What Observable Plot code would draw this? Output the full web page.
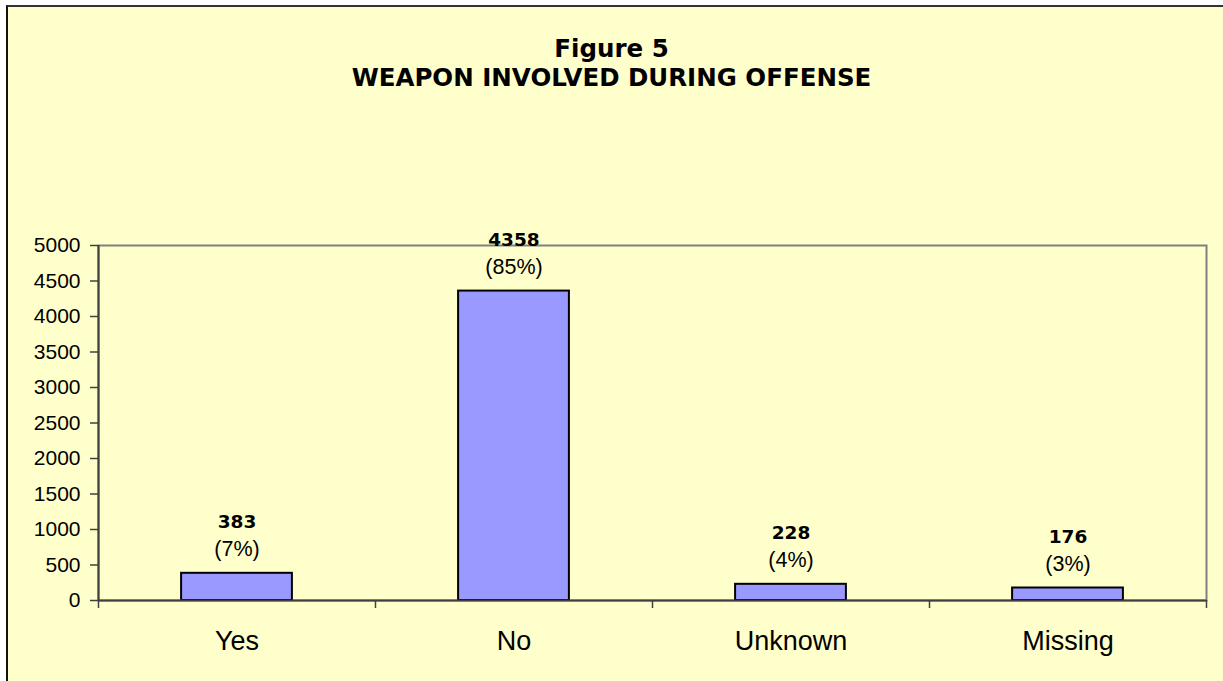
<!DOCTYPE html>
<html>
<head>
<meta charset="utf-8">
<script src="https://cdn.jsdelivr.net/npm/d3@7"></script>
<script src="https://cdn.jsdelivr.net/npm/@observablehq/plot@0.6"></script>
<style>
  html, body { margin: 0; padding: 0; background: #ffffff; }
  #wrap { position: relative; width: 1223px; height: 681px; overflow: hidden; }
  #box { position: absolute; left: 6px; top: 5px; width: 1240px; height: 700px;
         background: #FFFFCC; border-left: 2px solid #111; border-top: 2px solid #333; }
  #title { position: absolute; left: 0; top: 0; width: 1223px; text-align: center;
           font-family: "DejaVu Sans", Verdana, sans-serif; font-weight: bold; font-size: 24.5px;
           color: #000; line-height: 28px; }
  #title .l1 { position: absolute; left: 0; width: 100%; top: 35px; }
  #title .l2 { position: absolute; left: 0; width: 100%; top: 64px; }
  #chart { position: absolute; left: 0; top: 0; }
</style>
</head>
<body>
<div id="wrap">
  <div id="box"></div>
  <div id="title"><div class="l1">Figure 5</div><div class="l2">WEAPON INVOLVED DURING OFFENSE</div></div>
  <div id="chart"></div>
</div>
<script>
const categories = ["Yes", "No", "Unknown", "Missing"];
const counts = [383, 4358, 228, 176];
const percents = ["(7%)", "(85%)", "(4%)", "(3%)"];
const yTicks = [0, 500, 1000, 1500, 2000, 2500, 3000, 3500, 4000, 4500, 5000];

const data = categories.map((c, i) => ({
  category: c, idx: i, count: counts[i], pct: percents[i]
}));
const boundaries = d3.range(categories.length + 1);

const chart = Plot.plot({
  width: 1223,
  height: 681,
  marginLeft: 98,
  marginRight: 17,
  marginTop: 245,
  marginBottom: 81,
  style: { background: "transparent", fontFamily: "'Liberation Sans', Arial, sans-serif", color: "#000" },
  x: { domain: [0, categories.length], axis: null },
  y: { domain: [0, 5000], axis: null },
  marks: [
    Plot.frame({ stroke: "#808080", strokeWidth: 2 }),
    Plot.rectX(data, {
      x1: d => d.idx + 0.3, x2: d => d.idx + 0.7, y1: 0, y2: "count",
      fill: "#9999FF", stroke: "#000", strokeWidth: 2
    }),
    Plot.ruleX([0], { stroke: "#404040", strokeWidth: 2 }),
    Plot.axisY({ ticks: yTicks, tickSize: 8, tickPadding: 10, tickFormat: d => String(d),
      fontSize: 21, stroke: "#404040", strokeWidth: 1.5, label: null }),
    Plot.ruleY([0], { stroke: "#404040", strokeWidth: 2 }),
    Plot.axisX({ ticks: boundaries, tickSize: 8, tickFormat: () => "", stroke: "#404040",
      strokeWidth: 1.5, label: null }),
    Plot.text(data, { x: d => d.idx + 0.5, y: 0, text: "category", dy: 49,
      fontSize: 27, lineAnchor: "bottom", fill: "#000" }),
    Plot.text(data, { x: d => d.idx + 0.5, y: "count", text: d => String(d.count), dy: -45,
      lineAnchor: "bottom", fontSize: 18.5, fontWeight: "bold",
      fontFamily: "'DejaVu Sans', Verdana, sans-serif", fill: "#000" }),
    Plot.text(data, { x: d => d.idx + 0.5, y: "count", text: "pct", dy: -17,
      lineAnchor: "bottom", fontSize: 21.5, fill: "#000" })
  ]
});
document.getElementById("chart").appendChild(chart);
</script>
</body>
</html>
